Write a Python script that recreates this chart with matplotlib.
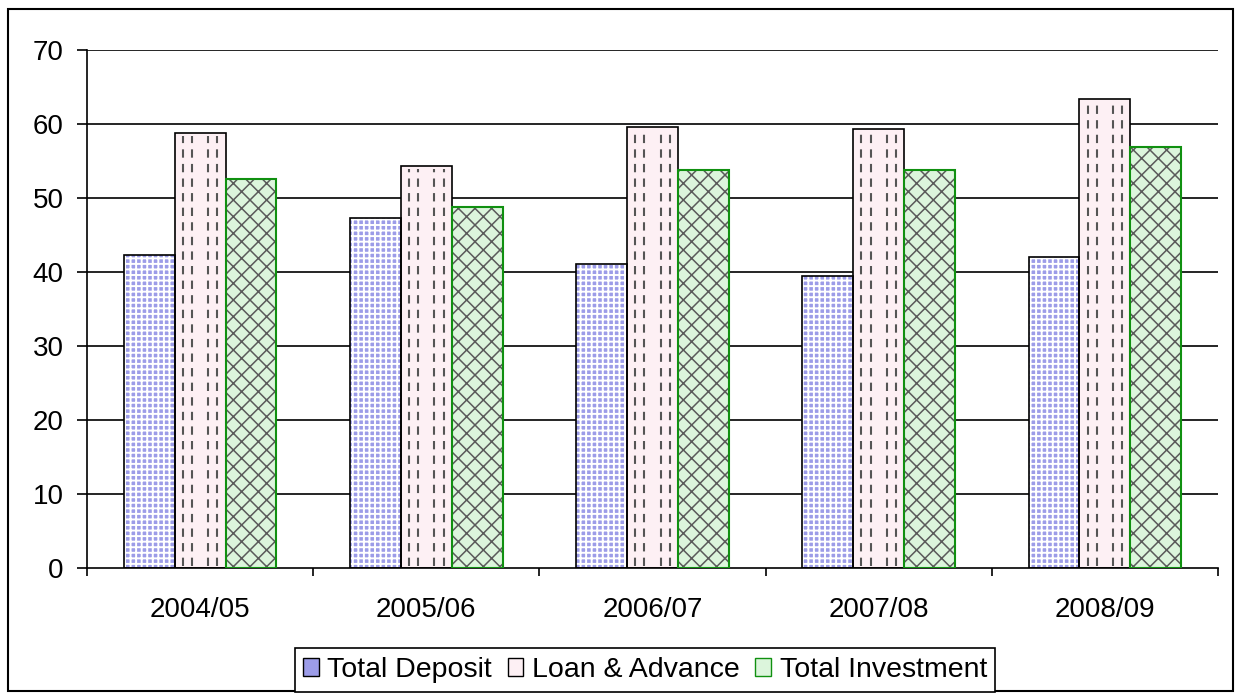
import numpy as np
import matplotlib
matplotlib.use("Agg")
import matplotlib.pyplot as plt
from matplotlib.patches import Rectangle, Patch

plt.rcParams["font.family"] = ["Liberation Sans", "DejaVu Sans"]

years = ["2004/05", "2005/06", "2006/07", "2007/08", "2008/09"]
total_deposit = [42.3, 47.3, 41.1, 39.5, 42.0]
loan_advance = [58.8, 54.3, 59.6, 59.3, 63.4]
total_investment = [52.6, 48.8, 53.8, 53.8, 56.9]
series_names = ["Total Deposit", "Loan & Advance", "Total Investment"]

fig = plt.figure(figsize=(12.36, 7.0), dpi=100)
ax = fig.add_axes([0.0704, 0.1886, 0.915, 0.74])

# outer frame around the whole chart
fig.patches.append(Rectangle((8 / 1236, 9 / 700), 1225 / 1236, 682 / 700,
                             transform=fig.transFigure, fill=False,
                             edgecolor="black", linewidth=1.5))

x = np.arange(len(years))
w = 0.225

# grid first so bars cover it
for v in range(10, 80, 10):
    ax.axhline(v, color="black", linewidth=1.2, zorder=0)

# deposit: blue with white grid hatch (checker look)
plt.rcParams["hatch.linewidth"] = 1.4
ax.bar(x - w, total_deposit, w, color="#9c9ce8", hatch="+++",
       edgecolor="white", linewidth=0, zorder=2)
ax.bar(x - w, total_deposit, w, fill=False, edgecolor="black", linewidth=1.2, zorder=3)

# loan & advance: pale pink with dashed vertical strokes
ax.bar(x, loan_advance, w, color="#fdf0f4", edgecolor="black",
       linewidth=1.2, zorder=2)
for xi, h in zip(x, loan_advance):
    left = xi - w / 2
    for f in (0.16, 0.34, 0.66, 0.84):
        ax.plot([left + f * w] * 2, [0.3, h - 0.4], color="#555555",
                linewidth=1.5, dashes=(4, 3), zorder=2.5)

# investment: pale green with diagonal lattice
plt.rcParams["hatch.linewidth"] = 1.1
ax.bar(x + w, total_investment, w, color="#dcf5dc", hatch="xx",
       edgecolor="#5a5a5a", linewidth=0, zorder=2)
ax.bar(x + w, total_investment, w, fill=False, edgecolor="#109010",
       linewidth=1.5, zorder=3)

ax.set_xlim(-0.5, len(years) - 0.5)
ax.set_ylim(0, 70)
ax.set_yticks(range(0, 80, 10))
ax.set_xticks(x, years)
ax.set_xticks(np.arange(-0.5, len(years)), minor=True)
ax.tick_params(axis="x", which="major", length=0, pad=21, labelsize=20)
ax.tick_params(axis="x", which="minor", length=6, width=1.2, direction="out")
ax.tick_params(axis="y", length=7, width=1.2, direction="out", pad=10, labelsize=20)
for s in ("top", "right"):
    ax.spines[s].set_visible(False)
for s in ("left", "bottom"):
    ax.spines[s].set_linewidth(1.2)

handles = [
    Patch(facecolor="#9c9ce8", edgecolor="black"),
    Patch(facecolor="#fdf0f4", edgecolor="black"),
    Patch(facecolor="#dcf5dc", edgecolor="#109010"),
]
leg = fig.legend(handles, series_names, loc="center",
                 bbox_to_anchor=(645 / 1236, 1 - 670 / 700), ncol=3,
                 fontsize=20.5, frameon=True, fancybox=False, framealpha=1,
                 edgecolor="black", handlelength=0.55, handleheight=0.55,
                 handletextpad=0.3, columnspacing=0.55, borderpad=0.3,
                 borderaxespad=0)
leg.get_frame().set_linewidth(1.2)

fig.savefig("out.png", dpi=100)
